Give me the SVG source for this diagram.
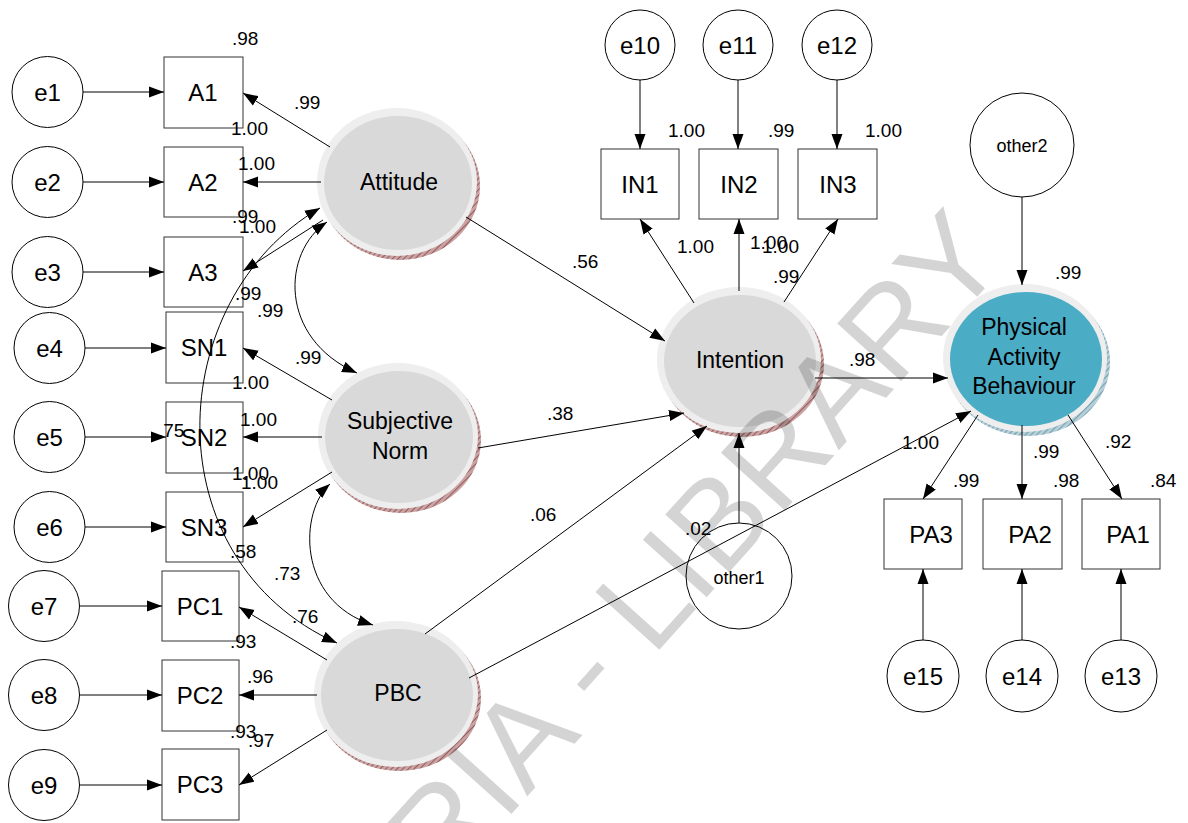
<svg xmlns="http://www.w3.org/2000/svg" width="1188" height="823" viewBox="0 0 1188 823">
  <style>
    .obs { fill: #fff; stroke: #333; stroke-width: 1; }
    .err { fill: #fff; stroke: #000; stroke-width: 1; }
    .ring { fill: #eeeeee; }
    .core { fill: #d9d9d9; }
    .coreBlue { fill: #4bacc6; }
    .edge { fill: none; stroke: #000; stroke-width: 1; marker-end: url(#arrow); }
    .cov { fill: none; stroke: #000; stroke-width: 1; marker-start: url(#arrow); marker-end: url(#arrow); }
    text { font-family: "Liberation Sans", Arial, sans-serif; fill: #000; }
    .lbl { font-size: 24px; text-anchor: middle; }
    .lat { font-size: 23px; text-anchor: middle; }
    .sm { font-size: 18px; text-anchor: middle; }
    .num { font-size: 19px; }
  </style>
  <defs>
    <marker id="arrow" markerUnits="userSpaceOnUse" markerWidth="16" markerHeight="12" refX="15" refY="6" orient="auto-start-reverse">
      <path d="M0,0.5 L15,6 L0,11.5 z" fill="#000"/>
    </marker>
    <pattern id="hatchRed" patternUnits="userSpaceOnUse" width="4" height="4" patternTransform="rotate(45)">
      <rect width="4" height="4" fill="#c9a3a3"/>
      <line x1="0" y1="0" x2="0" y2="4" stroke="#7a3232" stroke-width="1.3"/>
    </pattern>
    <pattern id="hatchBlue" patternUnits="userSpaceOnUse" width="4" height="4" patternTransform="rotate(45)">
      <rect width="4" height="4" fill="#b5cfd8"/>
      <line x1="0" y1="0" x2="0" y2="4" stroke="#4f8294" stroke-width="1.3"/>
    </pattern>
  </defs>
  <rect width="1188" height="823" fill="#fff"/>

  <!-- latent variables -->
  <g id="Attitude">
    <ellipse cx="400" cy="186" rx="80" ry="74" fill="url(#hatchRed)"/>
    <ellipse class="ring" cx="397" cy="182" rx="80" ry="74"/>
    <ellipse class="core" cx="398" cy="183" rx="74" ry="67"/>
    <text class="lat" x="399" y="190">Attitude</text>
  </g>
  <g id="SubjectiveNorm">
    <ellipse cx="401" cy="440" rx="80" ry="73" fill="url(#hatchRed)"/>
    <ellipse class="ring" cx="398" cy="436" rx="80" ry="73"/>
    <ellipse class="core" cx="399" cy="437" rx="74" ry="66"/>
    <text class="lat" x="400" y="429">Subjective</text>
    <text class="lat" x="400" y="459">Norm</text>
  </g>
  <g id="PBC">
    <ellipse cx="399" cy="698" rx="82" ry="73" fill="url(#hatchRed)"/>
    <ellipse class="ring" cx="396" cy="694" rx="82" ry="73"/>
    <ellipse class="core" cx="397" cy="695" rx="76" ry="66"/>
    <text class="lat" x="398" y="701">PBC</text>
  </g>
  <g id="Intention">
    <ellipse cx="742" cy="364" rx="82" ry="73" fill="url(#hatchRed)"/>
    <ellipse class="ring" cx="739" cy="360" rx="82" ry="73"/>
    <ellipse class="core" cx="740" cy="361" rx="76" ry="66"/>
    <text class="lat" x="740" y="368">Intention</text>
  </g>
  <g id="PhysicalActivityBehaviour">
    <ellipse cx="1028" cy="362" rx="82" ry="74" fill="url(#hatchBlue)"/>
    <ellipse class="ring" cx="1025" cy="358" rx="82" ry="74"/>
    <ellipse class="coreBlue" cx="1026" cy="359" rx="76" ry="67"/>
    <text class="lat" x="1024" y="335">Physical</text>
    <text class="lat" x="1024" y="365">Activity</text>
    <text class="lat" x="1024" y="394">Behaviour</text>
  </g>

  <!-- observed indicators -->
  <g id="A1"><rect class="obs" x="164" y="57" width="79" height="71"/><text class="lbl" x="203" y="101">A1</text></g>
  <g id="A2"><rect class="obs" x="164" y="147" width="79" height="70"/><text class="lbl" x="203" y="191">A2</text></g>
  <g id="A3"><rect class="obs" x="164" y="237" width="79" height="70"/><text class="lbl" x="203" y="281">A3</text></g>
  <g id="SN1"><rect class="obs" x="166" y="312" width="77" height="71"/><text class="lbl" x="204" y="356">SN1</text></g>
  <g id="SN2"><rect class="obs" x="166" y="402" width="77" height="71"/><text class="lbl" x="204" y="446">SN2</text></g>
  <g id="SN3"><rect class="obs" x="166" y="492" width="77" height="70"/><text class="lbl" x="204" y="536">SN3</text></g>
  <g id="PC1"><rect class="obs" x="162" y="571" width="77" height="70"/><text class="lbl" x="200" y="615">PC1</text></g>
  <g id="PC2"><rect class="obs" x="162" y="660" width="77" height="71"/><text class="lbl" x="200" y="704">PC2</text></g>
  <g id="PC3"><rect class="obs" x="162" y="749" width="77" height="71"/><text class="lbl" x="200" y="793">PC3</text></g>
  <g id="IN1"><rect class="obs" x="601" y="149" width="78" height="70"/><text class="lbl" x="640" y="193">IN1</text></g>
  <g id="IN2"><rect class="obs" x="699" y="149" width="79" height="70"/><text class="lbl" x="739" y="193">IN2</text></g>
  <g id="IN3"><rect class="obs" x="798" y="149" width="79" height="70"/><text class="lbl" x="838" y="193">IN3</text></g>
  <g id="PA3"><rect class="obs" x="884" y="499" width="78" height="70"/><text class="lbl" x="931" y="543">PA3</text></g>
  <g id="PA2"><rect class="obs" x="983" y="499" width="79" height="70"/><text class="lbl" x="1030" y="543">PA2</text></g>
  <g id="PA1"><rect class="obs" x="1082" y="499" width="78" height="70"/><text class="lbl" x="1128" y="543">PA1</text></g>

  <!-- error and disturbance terms -->
  <g id="e1"><circle class="err" cx="47.5" cy="92" r="35.5"/><text class="lbl" x="47.5" y="101">e1</text></g>
  <g id="e2"><circle class="err" cx="47.5" cy="182" r="35.5"/><text class="lbl" x="47.5" y="191">e2</text></g>
  <g id="e3"><circle class="err" cx="47.5" cy="272" r="35.5"/><text class="lbl" x="47.5" y="281">e3</text></g>
  <g id="e4"><circle class="err" cx="49.5" cy="348" r="35.5"/><text class="lbl" x="49.5" y="357">e4</text></g>
  <g id="e5"><circle class="err" cx="49.5" cy="437" r="35.5"/><text class="lbl" x="49.5" y="446">e5</text></g>
  <g id="e6"><circle class="err" cx="49.5" cy="527" r="35.5"/><text class="lbl" x="49.5" y="536">e6</text></g>
  <g id="e7"><circle class="err" cx="44" cy="606" r="35.5"/><text class="lbl" x="44" y="615">e7</text></g>
  <g id="e8"><circle class="err" cx="44" cy="695" r="35.5"/><text class="lbl" x="44" y="704">e8</text></g>
  <g id="e9"><circle class="err" cx="44" cy="785" r="35.5"/><text class="lbl" x="44" y="794">e9</text></g>
  <g id="e10"><circle class="err" cx="640" cy="45" r="35"/><text class="lbl" x="640" y="54">e10</text></g>
  <g id="e11"><circle class="err" cx="738" cy="45" r="35"/><text class="lbl" x="738" y="54">e11</text></g>
  <g id="e12"><circle class="err" cx="837" cy="45" r="35"/><text class="lbl" x="837" y="54">e12</text></g>
  <g id="e15"><circle class="err" cx="923" cy="676" r="36"/><text class="lbl" x="923" y="685">e15</text></g>
  <g id="e14"><circle class="err" cx="1022" cy="676" r="36"/><text class="lbl" x="1022" y="685">e14</text></g>
  <g id="e13"><circle class="err" cx="1121" cy="676" r="36"/><text class="lbl" x="1121" y="685">e13</text></g>
  <g id="other1"><circle class="err" cx="739" cy="576" r="53"/><text class="sm" x="739" y="584">other1</text></g>
  <g id="other2"><circle class="err" cx="1022" cy="145" r="52"/><text class="sm" x="1022" y="152">other2</text></g>

  <!-- connectors -->
  <g id="connectors">
    <!-- errors to indicators -->
    <path class="edge" d="M83,92 L164,92"/>
    <path class="edge" d="M83,182 L164,182"/>
    <path class="edge" d="M83,272 L164,272"/>
    <path class="edge" d="M85,348 L166,348"/>
    <path class="edge" d="M85,437 L166,437"/>
    <path class="edge" d="M85,527 L166,527"/>
    <path class="edge" d="M79.5,606 L162,606"/>
    <path class="edge" d="M79.5,695 L162,695"/>
    <path class="edge" d="M79.5,785 L162,785"/>
    <path class="edge" d="M640,80 L640,149"/>
    <path class="edge" d="M738,80 L738,149"/>
    <path class="edge" d="M837,80 L837,149"/>
    <path class="edge" d="M923,640 L923,569"/>
    <path class="edge" d="M1022,640 L1022,569"/>
    <path class="edge" d="M1121,640 L1121,569"/>
    <!-- loadings -->
    <path class="edge" d="M330,147 L243,93"/>
    <path class="edge" d="M321,182 L243,182"/>
    <path class="edge" d="M323,220 L243,271"/>
    <path class="edge" d="M332,400 L243,348"/>
    <path class="edge" d="M322,437 L243,437"/>
    <path class="edge" d="M332,472 L243,527"/>
    <path class="edge" d="M327,660 L239,607"/>
    <path class="edge" d="M317,695 L239,695"/>
    <path class="edge" d="M327,730 L239,785"/>
    <path class="edge" d="M694,303 L640,219"/>
    <path class="edge" d="M739,291 L739,219"/>
    <path class="edge" d="M784,302 L838,219"/>
    <path class="edge" d="M978,415 L923,499"/>
    <path class="edge" d="M1022,425 L1022,499"/>
    <path class="edge" d="M1068,415 L1122,499"/>
    <!-- structural paths -->
    <path class="edge" d="M466,217 L665,341"/>
    <path class="edge" d="M478,448 L684,413"/>
    <path class="edge" d="M425,634 L707,426"/>
    <path class="edge" d="M469,678 L971,411"/>
    <path class="edge" d="M815,378 L948,378"/>
    <path class="edge" d="M739,523 L739,433"/>
    <path class="edge" d="M1022,197 L1022,285"/>
    <!-- covariances -->
    <path class="cov" d="M327,222 C282,252 278,338 357,373"/>
    <path class="cov" d="M330,484 C300,510 295,600 373,625"/>
    <path class="cov" d="M320,208 C162,300 152,560 337,643"/>
  </g>

  <!-- estimates -->
  <g id="estimates">
    <text class="num" x="232" y="45">.98</text>
    <text class="num" x="294" y="109">.99</text>
    <text class="num" x="231" y="135">1.00</text>
    <text class="num" x="238" y="170">1.00</text>
    <text class="num" x="232" y="223">.99</text>
    <text class="num" x="239" y="233">1.00</text>
    <text class="num" x="235" y="300">.99</text>
    <text class="num" x="257" y="317">.99</text>
    <text class="num" x="295" y="364">.99</text>
    <text class="num" x="232" y="389">1.00</text>
    <text class="num" x="240" y="426">1.00</text>
    <text class="num" x="158" y="437">.75</text>
    <text class="num" x="232" y="480">1.00</text>
    <text class="num" x="241" y="489">1.00</text>
    <text class="num" x="230" y="558">.58</text>
    <text class="num" x="274" y="580">.73</text>
    <text class="num" x="292" y="623">.76</text>
    <text class="num" x="230" y="648">.93</text>
    <text class="num" x="247" y="683">.96</text>
    <text class="num" x="230" y="738">.93</text>
    <text class="num" x="248" y="747">.97</text>
    <text class="num" x="668" y="137">1.00</text>
    <text class="num" x="768" y="137">.99</text>
    <text class="num" x="865" y="137">1.00</text>
    <text class="num" x="677" y="253">1.00</text>
    <text class="num" x="750" y="249">1.00</text>
    <text class="num" x="762" y="253">1.00</text>
    <text class="num" x="773" y="283">.99</text>
    <text class="num" x="572" y="268">.56</text>
    <text class="num" x="849" y="366">.98</text>
    <text class="num" x="547" y="420">.38</text>
    <text class="num" x="530" y="521">.06</text>
    <text class="num" x="685" y="535">.02</text>
    <text class="num" x="902" y="449">1.00</text>
    <text class="num" x="1055" y="279">.99</text>
    <text class="num" x="953" y="487">.99</text>
    <text class="num" x="1033" y="458">.99</text>
    <text class="num" x="1105" y="448">.92</text>
    <text class="num" x="1053" y="487">.98</text>
    <text class="num" x="1150" y="487">.84</text>
  </g>

  <!-- watermark -->
  <g id="watermark">
    <text transform="translate(594,670) rotate(-48)" x="-264" y="35" font-size="125" style="fill:#000;fill-opacity:0.17">RIA - LIBRARY</text>
  </g>
</svg>
